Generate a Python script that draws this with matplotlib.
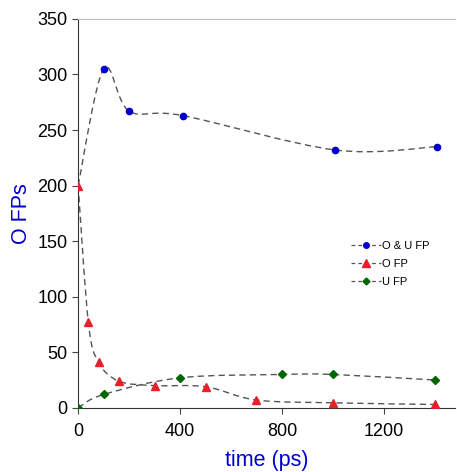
import numpy as np
import matplotlib
matplotlib.use("Agg")
import matplotlib.pyplot as plt
from matplotlib.path import Path
from matplotlib.patches import PathPatch

plt.rcParams['font.family'] = ['Liberation Sans', 'DejaVu Sans']

# data
t_ou = [0, 100, 200, 410, 1010, 1410]
ou_fp = [200, 305, 267, 263, 232, 235]

t_o = [0, 40, 80, 160, 300, 500, 700, 1000, 1400]
o_fp = [200, 77, 41, 24, 20, 19, 7, 4.5, 3]

t_u = [0, 100, 400, 800, 1000, 1400]
u_fp = [0, 12, 27, 30, 30, 25]


def smooth_path(x, y):
    # catmull-rom through the points, written as bezier segments
    x = np.asarray(x, float)
    y = np.asarray(y, float)
    p = np.column_stack([x, y])
    verts = [p[0]]
    codes = [Path.MOVETO]
    n = len(p)
    for i in range(n - 1):
        p0 = p[i - 1] if i > 0 else p[i]
        p3 = p[i + 2] if i + 2 < n else p[i + 1]
        c1 = p[i] + (p[i + 1] - p0) / 6.0
        c2 = p[i + 1] - (p3 - p[i]) / 6.0
        verts += [c1, c2, p[i + 1]]
        codes += [Path.CURVE4] * 3
    return Path(verts, codes)


fig = plt.figure(figsize=(4.57, 4.72), dpi=100)
ax = fig.add_axes([0.171, 0.136, 0.825, 0.824])

line_kw = dict(facecolor='none', edgecolor='#555555', lw=1.0, linestyle=(0, (4.5, 3)))
for xs, ys in [(t_ou, ou_fp), (t_o, o_fp), (t_u, u_fp)]:
    ax.add_patch(PathPatch(smooth_path(xs, ys), **line_kw))

ax.plot(t_ou[1:], ou_fp[1:], 'o', color='#0000cc', ms=4.5, zorder=3)
ax.plot(t_o, o_fp, '^', color='#e8202a', ms=6, zorder=4)
ax.plot(t_u, u_fp, 'D', color='#006600', ms=4, zorder=3)

# legend handles
h1, = ax.plot([], [], 'o', ls=(0, (3, 2.5)), color='#555555', mfc='#0000cc', mec='#0000cc', ms=4, lw=0.9)
h2, = ax.plot([], [], '^', ls=(0, (3, 2.5)), color='#555555', mfc='#e8202a', mec='#e8202a', ms=5.5, lw=0.9)
h3, = ax.plot([], [], 'D', ls=(0, (3, 2.5)), color='#555555', mfc='#006600', mec='#006600', ms=3.5, lw=0.9)
ax.legend([h1, h2, h3], ['O & U FP', 'O FP', 'U FP'], loc='upper left',
          bbox_to_anchor=(0.697, 0.455), frameon=False, fontsize=8,
          handlelength=2.7, handletextpad=0.1, labelspacing=0.72)

ax.set_xlim(0, 1480)
ax.set_ylim(0, 350)
ax.set_xticks([0, 400, 800, 1200])
ax.set_yticks(range(0, 351, 50))
ax.tick_params(labelsize=13, direction='out', length=4, width=0.8, color='#444444')
ax.tick_params(axis='x', pad=7)
ax.spines['right'].set_visible(False)
ax.spines['top'].set_color('#bbbbbb')
ax.spines['left'].set_color('#333333')
ax.spines['bottom'].set_color('#333333')

ax.set_xlabel('time (ps)', color='#0000cc', fontsize=15.5, labelpad=7)
ax.set_ylabel('O FPs', color='#0000cc', fontsize=15.5, labelpad=4)

fig.savefig('out.png', dpi=100)
